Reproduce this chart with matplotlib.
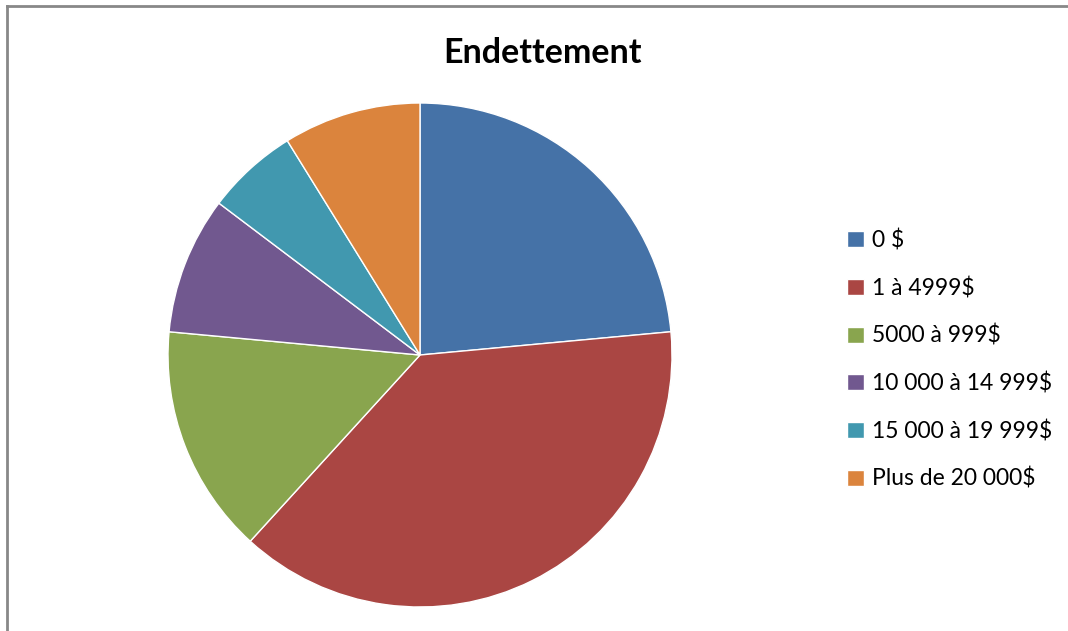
import matplotlib
matplotlib.use("Agg")
import matplotlib.pyplot as plt
from matplotlib.lines import Line2D

plt.rcParams['font.family'] = ['Lato', 'DejaVu Sans']

categories = ["0 $", "1 à 4999$", "5000 à 999$", "10 000 à 14 999$",
              "15 000 à 19 999$", "Plus de 20 000$"]
values = [8, 13, 5, 3, 2, 3]
colors = ["#4572A7", "#AA4643", "#89A54E", "#71588F", "#4198AF", "#DB843D"]
title = "Endettement"

W, H = 1068, 631
fig = plt.figure(figsize=(W / 100, H / 100), dpi=100)
fig.patch.set_facecolor("white")

# chart border
fig.add_artist(Line2D([6.5 / W, 6.5 / W], [0, 1 - 5.5 / H], transform=fig.transFigure,
                      color="#888888", lw=2))
fig.add_artist(Line2D([6.5 / W, 1], [1 - 5.5 / H, 1 - 5.5 / H], transform=fig.transFigure,
                      color="#888888", lw=2))

cx, cy, r = 420, 355, 252
ax = fig.add_axes([(cx - r) / W, (H - cy - r) / H, 2 * r / W, 2 * r / H])
wedges, _ = ax.pie(values, colors=colors, startangle=90, counterclock=False,
                   radius=1, wedgeprops=dict(edgecolor="white", linewidth=1))
ax.set_xlim(-1, 1)
ax.set_ylim(-1, 1)
ax.set_aspect("equal")
ax.axis("off")

fig.text(543 / W, 1 - 53 / H, title, ha="center", va="center",
         fontsize=24.5, fontweight="bold", color="black")

leg = fig.legend(wedges, categories, loc="upper left",
                 bbox_to_anchor=(836 / W, 1 - 218 / H), frameon=False,
                 fontsize=16.5, handlelength=0.7, handleheight=0.7,
                 handletextpad=0.35, labelspacing=1.12, borderpad=0)

fig.savefig("out.png", dpi=100, facecolor="white")
